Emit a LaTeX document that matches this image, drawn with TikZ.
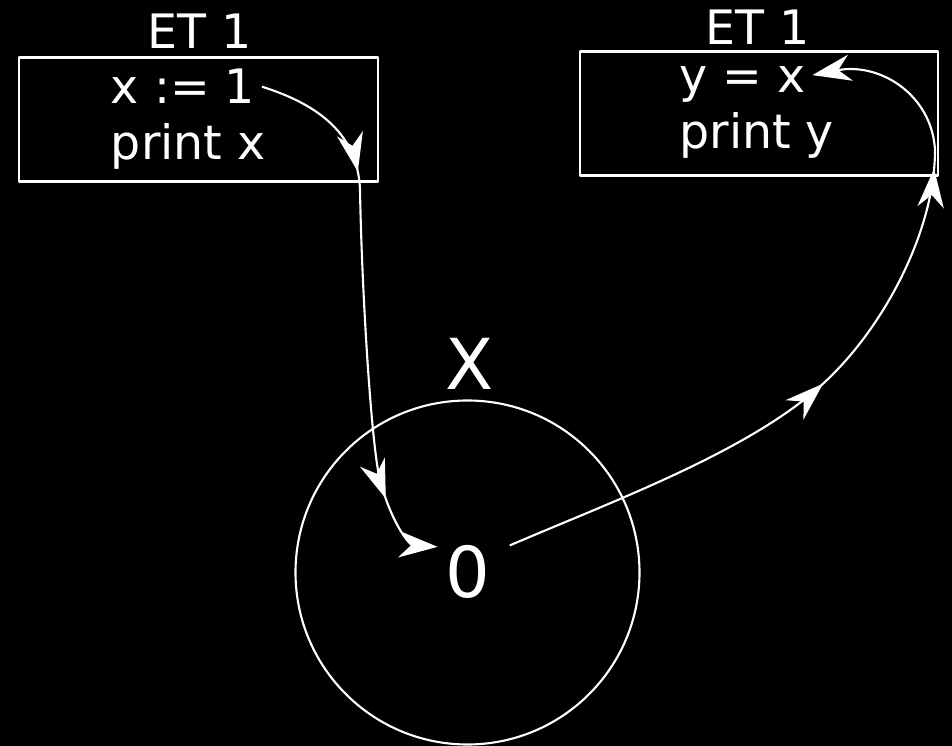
\documentclass[tikz,border=0pt]{standalone}
\usepackage{fontspec}
\setmainfont{DejaVu Sans}
\usepackage{tikz}
\usetikzlibrary{arrows.meta, decorations.markings}

\begin{document}
\begin{tikzpicture}[line join=round, white, line width=1.2pt,
    >={Stealth[length=22pt, width=15pt, inset=7pt]},
    codetext/.style={font=\fontsize{27}{32}\selectfont, anchor=base west},
    bigtext/.style={font=\fontsize{40}{46}\selectfont, anchor=base},
    codebox/.style={draw, minimum width=#1, minimum height=2.48cm, inner sep=0pt},
    midtips/.style 2 args={postaction={decorate}, decoration={markings,
        mark=at position #1 with {\arrow{>}},
        mark=at position #2 with {\arrow{>}}}}]
    % black page
    \fill[black] (0,0) rectangle (19.04,14.92);
    \useasboundingbox (0,0) rectangle (19.04,14.92);

    % Two execution threads
    \node[codebox=7.18cm] (boxa) at (3.97,12.53) {};
    \node[codebox=7.16cm] (boxb) at (15.18,12.65) {};
    \node[font=\fontsize{27}{32}\selectfont, anchor=base] (eta) at (3.99,13.94) {ET 1};
    \node[font=\fontsize{27}{32}\selectfont, anchor=base] (etb) at (15.15,14.02) {ET 1};

    \node[codetext] (xset) at (2.08,12.84) {x := 1};
    \node[codetext] (printx) at (2.08,11.72) {print x};
    \node[codetext] (yset) at (13.45,13.06) {y = x};
    \node[codetext] (printy) at (13.45,11.94) {print y};

    % Shared variable
    \node[draw, circle, minimum size=6.88cm, inner sep=0pt] (xcell) at (9.35,3.47) {};
    \node[bigtext] (xname) at (9.40,7.12) {X};
    \node[bigtext, inner sep=4pt] (zero) at (9.36,2.96) {0};

    % Write from thread one
    \draw[->, midtips={0.25}{0.86}] (xset.east)
        .. controls (6.4,12.82) and (7.16,12.22) .. (7.2,11.12)
        .. controls (7.24,8.92) and (7.44,5.92) .. (7.6,5.32)
        .. controls (7.84,4.42) and (8.2,4.02) .. (zero.140);

    % Read into the other thread
    \draw[->, shorten <=7pt, midtips={0.46}{0.77}] (zero.36)
        .. controls (12.36,4.94) and (15.1,5.94) .. (16.54,7.32)
        .. controls (17.7,8.42) and (18.7,10.32) .. (18.7,11.92)
        .. controls (18.64,13.02) and (17.6,13.68) .. (yset.8);
\end{tikzpicture}
\end{document}
